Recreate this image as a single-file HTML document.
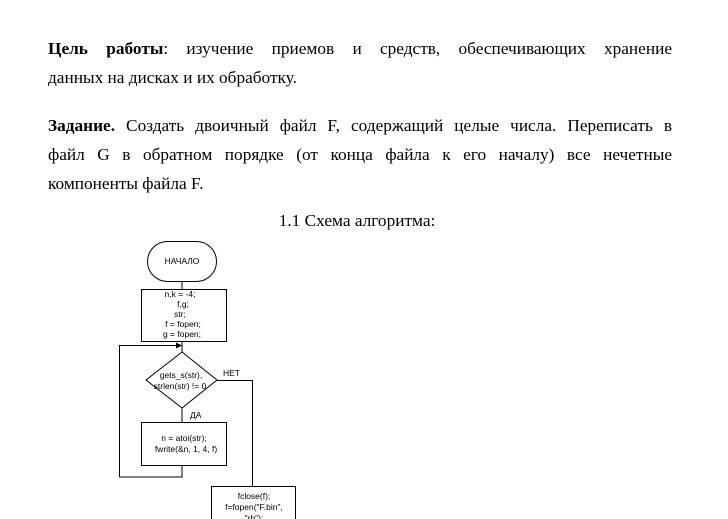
<!DOCTYPE html>
<html><head><meta charset="utf-8"><style>
body{margin:0;width:728px;height:519px;background:#fff;overflow:hidden;position:relative;font-family:"Liberation Serif",serif;font-size:17.3px;color:#000}
.p{position:absolute;left:48px;width:624px;text-align:justify;text-align-last:justify;line-height:29px;white-space:nowrap}
.l{text-align-last:left}
svg{position:absolute;left:0;top:0}
svg text{font-family:"Liberation Sans",sans-serif;font-size:8.5px}
</style></head><body>
<div class="p" style="top:34px"><b>Цель работы</b>: изучение приемов и средств, обеспечивающих хранение</div>
<div class="p l" style="top:63px">данных на дисках и их обработку.</div>
<div class="p" style="top:111px"><b>Задание.</b> Создать двоичный файл F, содержащий целые числа. Переписать в</div>
<div class="p" style="top:140px">файл G в обратном порядке (от конца файла к его началу) все нечетные</div>
<div class="p l" style="top:169px">компоненты файла F.</div>
<div style="position:absolute;top:206px;left:-7px;width:728px;text-align:center;line-height:29px">1.1 Схема алгоритма:</div>
<svg width="728" height="519" viewBox="0 0 728 519">
<g fill="none" stroke="#000" stroke-width="1">
<rect x="147.5" y="241.5" width="69" height="40" rx="20"/>
<line x1="182" y1="282" x2="182" y2="289"/>
<rect x="141.5" y="289.5" width="85" height="52"/>
<line x1="182" y1="342" x2="182" y2="352"/>
<polygon points="182,352 217,380 182,408 146,380"/>
<line x1="182" y1="408" x2="182" y2="422"/>
<rect x="141.5" y="422.5" width="85" height="43"/>
<polyline points="182,466 182,477 119.5,477 119.5,345.5 178,345.5"/>
<polyline points="217,380.5 252.5,380.5 252.5,486"/>
<rect x="211.5" y="486.5" width="84" height="40"/>
</g>
<polygon points="182,345.5 176,342.5 176,348.5" fill="#000"/>
<text x="182" y="264" text-anchor="middle">НАЧАЛО</text>
<g text-anchor="middle">
<text x="180" y="297">n,k = -4;</text>
<text x="183" y="307">f,g;</text>
<text x="180" y="317">str;</text>
<text x="183" y="327">f = fopen;</text>
<text x="182" y="337">g = fopen;</text>
<text x="181" y="378">gets_s(str),</text>
<text x="180" y="389">strlen(str) != 0</text>
<text x="184" y="441">n = atoi(str);</text>
<text x="186" y="452">fwrite(&amp;n, 1, 4, f)</text>
<text x="254" y="499">fclose(f);</text>
<text x="254" y="510">f=fopen("F.bin",</text>
<text x="254" y="521">"rb");</text>
</g>
<text x="223" y="376">НЕТ</text>
<text x="190" y="418">ДА</text>
</svg>
</body></html>
